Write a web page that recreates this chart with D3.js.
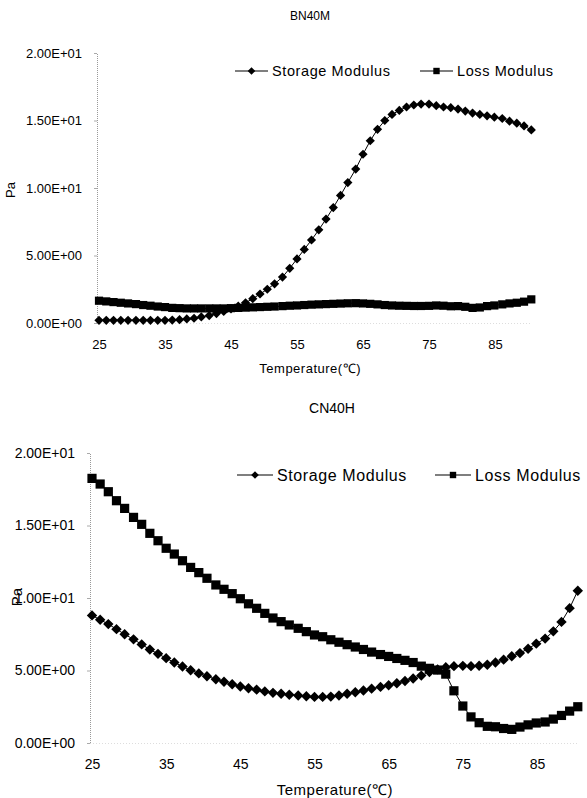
<!DOCTYPE html>
<html>
<head>
<meta charset="utf-8">
<script src="https://cdn.jsdelivr.net/npm/d3@7"></script>
<style>
  body { margin: 0; background: #fff; }
  svg { display: block; font-family: "Liberation Sans", Arial, sans-serif; }
</style>
</head>
<body>
<div id="chart"></div>
<script>
// temperature steps (°C), same for both samples
const temps = [25.0, 26.1, 27.2, 28.3, 29.4, 30.6, 31.7, 32.8, 33.9, 35.0, 36.1, 37.2, 38.3, 39.4, 40.5,
  41.7, 42.8, 43.9, 45.0, 46.1, 47.2, 48.3, 49.4, 50.5, 51.6, 52.8, 53.9, 55.0, 56.1, 57.2,
  58.3, 59.4, 60.5, 61.6, 62.7, 63.9, 65.0, 66.1, 67.2, 68.3, 69.4, 70.5, 71.6, 72.7, 73.8,
  75.0, 76.1, 77.2, 78.3, 79.4, 80.5, 81.6, 82.7, 83.8, 84.9, 86.1, 87.2, 88.3, 89.4, 90.5];

const bn40mStorage = [0.20, 0.20, 0.20, 0.20, 0.20, 0.20, 0.20, 0.20, 0.20, 0.20, 0.22, 0.25, 0.30, 0.35, 0.45,
  0.55, 0.70, 0.85, 1.05, 1.25, 1.50, 1.80, 2.15, 2.50, 2.90, 3.40, 4.05, 4.75, 5.45, 6.15,
  6.90, 7.70, 8.55, 9.45, 10.40, 11.40, 12.50, 13.50, 14.35, 15.00, 15.45, 15.75, 16.00, 16.15, 16.22,
  16.22, 16.10, 16.00, 15.95, 15.85, 15.70, 15.55, 15.45, 15.35, 15.25, 15.15, 14.95, 14.80, 14.60, 14.30];

const bn40mLoss = [1.65, 1.60, 1.55, 1.50, 1.45, 1.40, 1.33, 1.28, 1.22, 1.18, 1.12, 1.10, 1.08, 1.08, 1.08,
  1.08, 1.08, 1.08, 1.10, 1.12, 1.14, 1.16, 1.18, 1.20, 1.22, 1.25, 1.28, 1.30, 1.33, 1.36,
  1.38, 1.40, 1.42, 1.44, 1.46, 1.47, 1.45, 1.42, 1.38, 1.33, 1.30, 1.28, 1.27, 1.26, 1.26,
  1.27, 1.30, 1.28, 1.24, 1.25, 1.20, 1.12, 1.15, 1.25, 1.30, 1.38, 1.45, 1.50, 1.58, 1.75];

const cn40hStorage = [8.80, 8.50, 8.20, 7.85, 7.50, 7.15, 6.80, 6.45, 6.15, 5.85, 5.55, 5.28, 5.02, 4.80, 4.60,
  4.40, 4.22, 4.05, 3.90, 3.78, 3.68, 3.56, 3.46, 3.40, 3.33, 3.28, 3.22, 3.18, 3.18, 3.20,
  3.28, 3.40, 3.50, 3.62, 3.75, 3.87, 3.98, 4.12, 4.28, 4.45, 4.65, 4.90, 5.08, 5.22, 5.30,
  5.32, 5.30, 5.33, 5.40, 5.55, 5.75, 5.98, 6.20, 6.50, 6.85, 7.20, 7.70, 8.35, 9.30, 10.50];

const cn40hLoss = [18.25, 17.86, 17.33, 16.71, 16.18, 15.56, 15.08, 14.46, 13.95, 13.43, 13.03, 12.57, 12.11, 11.75, 11.36,
  10.90, 10.60, 10.30, 9.95, 9.60, 9.29, 8.94, 8.62, 8.37, 8.14, 7.91, 7.68, 7.45, 7.33, 7.12,
  6.95, 6.78, 6.62, 6.45, 6.27, 6.10, 5.97, 5.83, 5.70, 5.55, 5.30, 5.15, 5.03, 4.75, 3.60,
  2.55, 1.80, 1.40, 1.15, 1.12, 1.00, 0.94, 1.10, 1.25, 1.38, 1.45, 1.65, 1.90, 2.20, 2.50];

const seriesNames = ["Storage Modulus", "Loss Modulus"];
const xTicks = [25, 35, 45, 55, 65, 75, 85];
const yTicks = [0, 5, 10, 15, 20];
const yTickLabels = ["0.00E+00", "5.00E+00", "1.00E+01", "1.50E+01", "2.00E+01"];

const width = 587;
const height = 798;

const svg = d3.select("#chart").append("svg").attr("width", width).attr("height", height);

// marker shapes, r = half size
const diamond = (r) => `M0,${-r}L${r},0L0,${r}L${-r},0Z`;
const square = (r) => `M${-r},${-r}H${r}V${r}H${-r}Z`;

function panel(opt) {
  const x = d3.scaleLinear().domain([25, 85]).range([opt.x0, opt.x1]);
  const y = d3.scaleLinear().domain([0, 20]).range([opt.y0, opt.y1]);
  const g = svg.append("g");

  // title
  g.append("text")
    .attr("x", opt.titleX)
    .attr("y", opt.titleY)
    .attr("text-anchor", "middle")
    .style("font-size", opt.titleSize + "px")
    .text(opt.title);

  // x axis (faint dotted baseline)
  const xAxis = g.append("g")
    .attr("transform", `translate(0,${opt.y0})`)
    .call(d3.axisBottom(x).tickValues(xTicks).tickSize(0).tickPadding(opt.xPad))
    .call((g) => g.select(".domain").attr("stroke", "#ddd").attr("stroke-dasharray", "1,2")
      .attr("d", `M${opt.x0 - 2},0.5H${x(90.5)}`));
  xAxis.selectAll("text").style("font-size", opt.tickSize + "px").attr("fill", "#000");

  // y axis (dotted gray)
  const yAxis = g.append("g")
    .attr("transform", `translate(${opt.x0 - 2},0)`)
    .call(d3.axisLeft(y).tickValues(yTicks).tickFormat((d, i) => yTickLabels[i]).tickSize(3).tickPadding(opt.yPad))
    .call((g) => g.select(".domain").attr("stroke", "#999").attr("stroke-dasharray", "1,1"));
  yAxis.selectAll(".tick line").attr("stroke", "#aaa");
  yAxis.selectAll("text").style("font-size", opt.tickSize + "px").attr("fill", "#000");

  // axis titles
  g.append("text")
    .attr("x", (opt.x0 + x(90.5)) / 2 + opt.xTitleShift)
    .attr("y", opt.xTitleY)
    .attr("text-anchor", "middle")
    .style("font-size", opt.axisTitleSize + "px")
    .style("letter-spacing", "0.5px")
    .text("Temperature(℃)");

  g.append("text")
    .attr("transform", `translate(${opt.paX},${opt.paY}) rotate(-90)`)
    .attr("text-anchor", "middle")
    .style("font-size", opt.axisTitleSize + "px")
    .text("Pa");

  const line = d3.line().x((d, i) => x(temps[i])).y((d) => y(d));

  const series = [
    { name: seriesNames[0], values: opt.storage, shape: diamond, r: opt.dR },
    { name: seriesNames[1], values: opt.loss, shape: square, r: opt.sR }
  ];

  series.forEach((s) => {
    g.append("path")
      .datum(s.values)
      .attr("fill", "none")
      .attr("stroke", "#000")
      .attr("stroke-width", 1)
      .attr("d", line);

    g.append("g")
      .selectAll("path")
      .data(s.values)
      .join("path")
      .attr("transform", (d, i) => `translate(${x(temps[i])},${y(d)})`)
      .attr("d", s.shape(s.r))
      .attr("fill", "#000");
  });

  // legend
  const leg = g.append("g").style("font-size", opt.legendSize + "px");
  series.forEach((s, i) => {
    const lx = opt.legendX[i];
    const it = leg.append("g").attr("transform", `translate(${lx},${opt.legendY})`);
    it.append("line").attr("x1", 0).attr("x2", opt.legendLen).attr("stroke", "#000").attr("stroke-width", 1.2);
    it.append("path").attr("transform", `translate(${opt.legendLen / 2},0)`).attr("d", s.shape(i === 0 ? 3.8 : 3.2)).attr("fill", "#000");
    it.append("text")
      .attr("x", opt.legendLen + 4)
      .attr("dy", "0.36em")
      .style("letter-spacing", "0.6px")
      .text(s.name);
  });
}

panel({
  title: "BN40M", titleX: 310, titleY: 20, titleSize: 12,
  x0: 99, x1: 495, y0: 323, y1: 53,
  tickSize: 13, xPad: 17, yPad: 12,
  xTitleY: 373, xTitleShift: -5, axisTitleSize: 13,
  paX: 15, paY: 190,
  storage: bn40mStorage, loss: bn40mLoss, dR: 4.6, sR: 4.1,
  legendX: [235, 420], legendY: 71, legendLen: 33, legendSize: 14.5
});

panel({
  title: "CN40H", titleX: 332, titleY: 413, titleSize: 14,
  x0: 92, x1: 537, y0: 743, y1: 453,
  tickSize: 14, xPad: 16, yPad: 12,
  xTitleY: 795, xTitleShift: 0, axisTitleSize: 15,
  paX: 22, paY: 597,
  storage: cn40hStorage, loss: cn40hLoss, dR: 5.2, sR: 4.6,
  legendX: [237, 435], legendY: 475, legendLen: 36, legendSize: 16
});
</script>
</body>
</html>
